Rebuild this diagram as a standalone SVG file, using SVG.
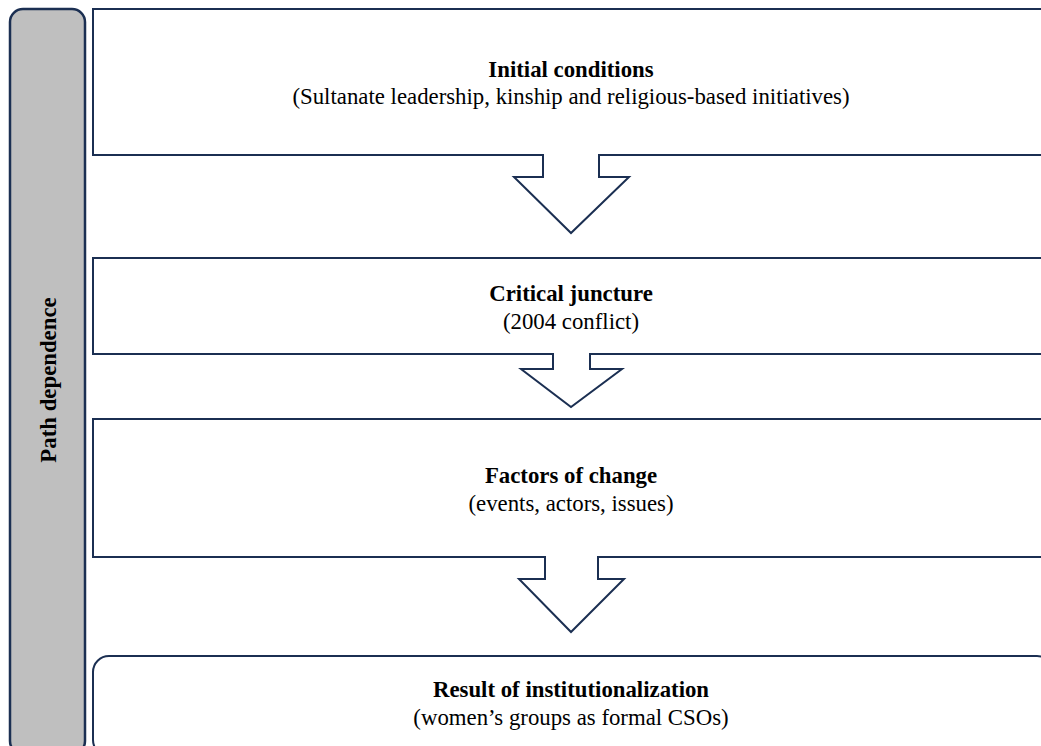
<svg xmlns="http://www.w3.org/2000/svg" width="1041" height="746" viewBox="0 0 1041 746">
<style>
.box{fill:#fff;stroke:#1b2f52;stroke-width:2}
.bar{fill:#bfbfbf;stroke:#1b2f52;stroke-width:2.5}
.arr{fill:#fff;stroke:#1b2f52;stroke-width:2;stroke-linejoin:miter}
.gap{fill:#fff;stroke:none}
text{font-family:"Liberation Serif","Times New Roman",serif;font-size:22.8px;fill:#000;text-anchor:middle}
.b{font-weight:bold}
</style>
<rect width="1041" height="746" fill="#fff"/>
<g id="path-dependence">
<rect class="bar" x="10" y="9" width="75" height="745" rx="13"/>
<text class="b" transform="translate(56,380) rotate(-90)">Path dependence</text>
</g>
<g id="initial-conditions">
<rect class="box" x="93" y="9" width="960" height="146"/>
<text class="b" x="571" y="77">Initial conditions</text>
<text x="571" y="104">(Sultanate leadership, kinship and religious-based initiatives)</text>
</g>
<g id="critical-juncture">
<rect class="box" x="93" y="258" width="960" height="96"/>
<text class="b" x="571" y="301">Critical juncture</text>
<text x="571" y="329">(2004 conflict)</text>
</g>
<g id="factors-of-change">
<rect class="box" x="93" y="419" width="960" height="138"/>
<text class="b" x="571" y="483">Factors of change</text>
<text x="571" y="511">(events, actors, issues)</text>
</g>
<g id="result">
<rect class="box" x="93" y="656" width="960" height="100" rx="16"/>
<text class="b" x="571" y="697">Result of institutionalization</text>
<text x="571" y="725">(women’s groups as formal CSOs)</text>
</g>
<g id="connectors">
<rect class="gap" x="544" y="152" width="54" height="6"/>
<polyline class="arr" points="543,155 543,177 514,177 571,233 629,177 599,177 599,155"/>
<rect class="gap" x="554" y="351" width="35" height="6"/>
<polyline class="arr" points="553,354 553,369 521,369 571,407 622,369 590,369 590,354"/>
<rect class="gap" x="546" y="554" width="51" height="6"/>
<polyline class="arr" points="545,557 545,579 519,579 571,632 624,579 598,579 598,557"/>
</g>
</svg>
